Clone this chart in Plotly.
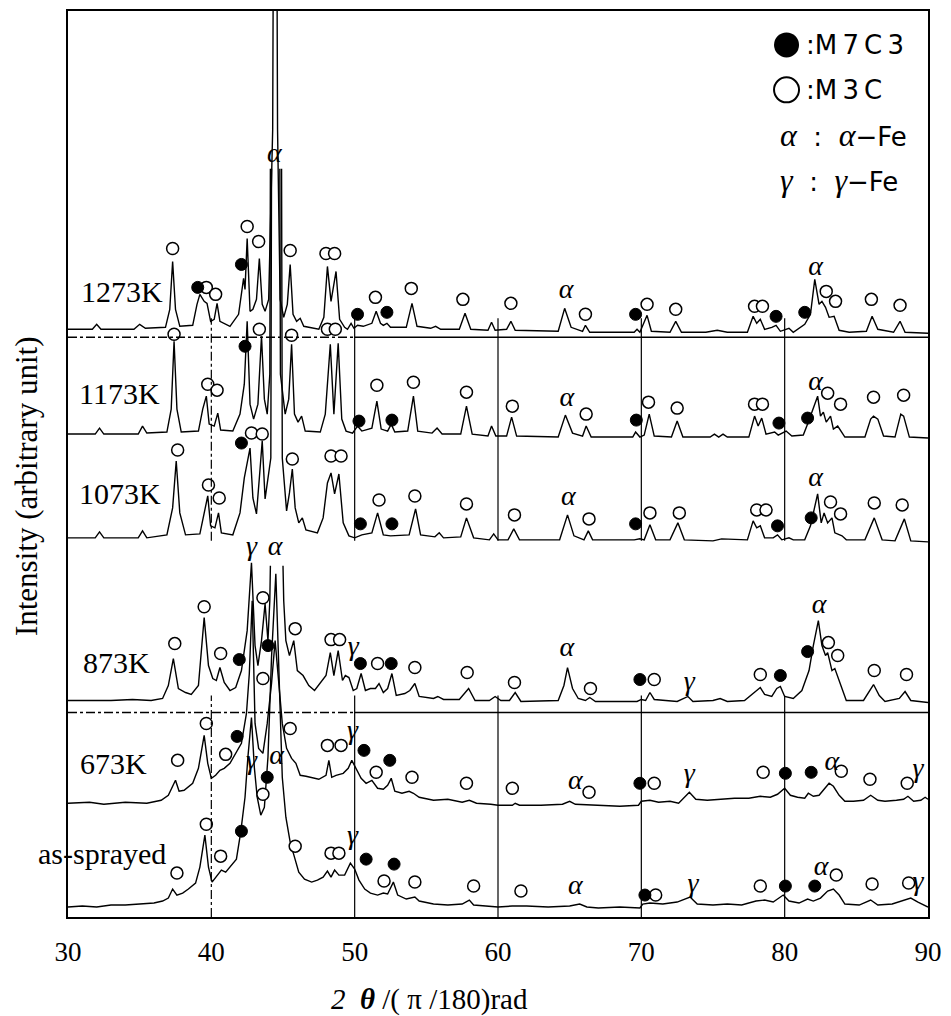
import plotly.graph_objects as go

# X-ray diffraction patterns of the sprayed coating after heat treatment.
# Each pattern: (2theta [deg], intensity above its own baseline [a.u.]).
# None marks an off-scale peak whose top is left open.

PATTERN_1273K = [
    (30.0, 0), (31.7, 0), (32.0, 5), (32.3, 0), (34.6, 0), (35.0, 5), (35.4, 1), (36.8, 2),
    (37.1, 20), (37.3, 68), (37.5, 20), (37.8, 3), (38.7, 4), (39.0, 25), (39.2, 35), (39.5, 28),
    (39.7, 26), (39.95, 8), (40.2, 10), (40.4, 26), (40.6, 8), (41.3, 3), (41.9, 15), (42.15, 45),
    (42.25, 51), (42.35, 40), (42.5, 91), (42.7, 18), (42.9, 20), (43.15, 30), (43.35, 71),
    (43.55, 25), (43.75, 18), (44.0, 30), (44.28, 200), (44.45, 900), (44.62, 200), (44.8, 30),
    (45.05, 12), (45.3, 25), (45.5, 65), (45.7, 15), (45.95, 8), (46.2, 11), (46.45, 3),
    (47.5, 0), (47.85, 12), (48.1, 63), (48.35, 28), (48.7, 58), (48.95, 10), (49.3, 2),
    (49.5, 0), (49.75, 6), (49.95, 1), (50.2, 4), (50.6, 3), (51.2, 6), (51.5, 18), (51.8, 6),
    (52.0, 4), (52.25, 6), (52.5, 2), (53.6, 2), (54.0, 26), (54.35, 3), (55.3, 1), (55.65, 3),
    (56.0, 0), (57.3, 0), (57.7, 16), (58.1, 0), (59.3, -1), (59.55, 7), (59.8, -1), (60.6, 0),
    (60.9, 8), (61.2, -1), (64.2, -2), (64.65, 21), (65.1, 2), (65.9, -2), (66.1, 4), (66.4, -3),
    (69.5, -3), (69.7, 0), (69.9, -3), (70.4, 14), (70.7, -2), (72.0, -3), (72.4, 8), (72.8, -3),
    (74.5, -3), (75.3, -1), (76.0, -3), (77.4, -3), (77.8, 13), (78.05, 6), (78.3, 10),
    (78.6, 0), (79.1, 2), (79.4, 4), (79.7, -2), (80.3, 1), (80.6, -3), (81.4, 5), (81.8, 15),
    (82.1, 50), (82.4, 25), (82.6, 28), (82.85, 22), (83.1, 12), (83.45, 13), (83.8, -1),
    (84.5, -3), (85.7, -2), (86.1, 13), (86.5, 0), (87.6, -3), (88.05, 8), (88.4, -3), (90.0, -4),
]

PATTERN_1173K = [
    (30.0, 0), (31.9, 0), (32.2, 6), (32.5, 0), (34.9, 0), (35.2, 8), (35.5, 1), (36.9, 2),
    (37.2, 25), (37.4, 93), (37.6, 25), (37.9, 2), (39.1, 3), (39.4, 25), (39.65, 38),
    (39.85, 10), (40.2, 8), (40.45, 21), (40.65, 4), (41.5, 3), (42.0, 20), (42.3, 50),
    (42.5, 113), (42.7, 30), (42.95, 15), (43.25, 30), (43.5, 98), (43.7, 35), (43.9, 20),
    (44.08, 60), (44.12, 266), (44.45, None), (44.78, 266), (44.82, 60), (45.15, 20),
    (45.4, 35), (45.6, 90), (45.8, 20), (46.05, 12), (46.3, 18), (46.55, 3), (47.6, 2),
    (47.95, 20), (48.3, 90), (48.55, 20), (48.85, 91), (49.1, 15), (49.4, 3), (49.85, 1),
    (50.2, 8), (50.5, 3), (51.2, 6), (51.55, 33), (51.85, 5), (52.3, 3), (52.55, 10), (52.8, 2),
    (53.7, 3), (54.1, 38), (54.4, 3), (55.4, 1), (55.75, 6), (56.1, 0), (57.4, 0), (57.8, 28),
    (58.2, 0), (59.3, -2), (59.55, 8), (59.85, -2), (60.6, -2), (60.95, 17), (61.3, -2),
    (64.2, -3), (64.7, 19), (65.2, 1), (65.9, -2), (66.15, 8), (66.5, -3), (69.4, -3),
    (69.6, 2), (69.9, -3), (70.2, -1), (70.55, 20), (70.9, -2), (72.1, -3), (72.5, 13),
    (72.9, -3), (74.8, -3), (75.1, 0), (75.4, -3), (75.7, 0), (76.0, -3), (77.5, -3),
    (77.9, 18), (78.15, 8), (78.4, 16), (78.7, 0), (79.3, 2), (79.55, -1), (80.1, 3),
    (80.5, -2), (81.3, -1), (81.6, 10), (82.0, 25), (82.3, 38), (82.5, 18), (82.7, 22),
    (82.9, 12), (83.2, 18), (83.4, 5), (83.7, 8), (84.2, -3), (85.6, -3), (86.0, 15),
    (86.2, 18), (86.5, 15), (86.9, -2), (87.7, -3), (88.1, 20), (88.3, 18), (88.7, -3),
    (90.0, -4),
]

PATTERN_1073K = [
    (30.0, 0), (31.9, 0), (32.2, 6), (32.5, 0), (34.9, 0), (35.2, 7), (35.5, 0), (36.9, 3),
    (37.3, 30), (37.55, 77), (37.8, 25), (38.2, 3), (39.2, 4), (39.5, 25), (39.75, 42),
    (39.95, 12), (40.25, 10), (40.5, 25), (40.7, 5), (41.5, 3), (42.0, 25), (42.3, 60),
    (42.5, 75), (42.7, 90), (42.9, 40), (43.15, 24), (43.35, 60), (43.55, 97), (43.75, 39),
    (44.15, 80), (44.2, 370), (44.55, None), (44.9, 370), (44.95, 80), (45.25, 27), (45.45, 45),
    (45.65, 69), (45.85, 30), (46.1, 15), (46.35, 20), (46.6, 8), (47.4, 5), (47.8, 20),
    (48.1, 55), (48.35, 65), (48.6, 44), (48.9, 64), (49.2, 15), (49.6, 2), (50.0, 0),
    (50.5, 3), (51.2, 5), (51.6, 25), (52.0, 3), (52.5, 2), (53.8, 3), (54.25, 29), (54.6, 3),
    (55.6, 1), (55.9, 5), (56.2, 0), (57.4, 1), (57.8, 20), (58.3, 0), (59.4, -2), (59.7, 4),
    (60.0, -2), (60.7, -2), (61.1, 9), (61.5, -2), (64.3, -2), (64.85, 23), (65.3, 2),
    (66.0, -2), (66.3, 7), (66.6, -2), (69.5, -2), (69.9, -1), (70.2, -2), (70.6, 13),
    (71.0, -2), (72.0, -2), (72.55, 15), (73.0, -2), (75.0, -3), (75.6, -1), (77.4, -2),
    (77.8, 17), (78.05, 10), (78.3, 12), (78.6, 0), (79.2, 0), (79.5, 3), (79.8, -2),
    (80.3, 0), (80.6, -2), (81.4, -2), (81.8, 12), (82.3, 44), (82.55, 15), (82.75, 25),
    (83.0, 15), (83.3, 20), (83.5, 5), (84.0, 2), (84.3, -2), (85.6, -2), (86.25, 20),
    (86.8, -2), (87.7, -3), (88.35, 19), (88.8, -3), (90.0, -4),
]

PATTERN_873K = [
    (30.0, 0), (33.0, 0), (34.5, 1), (35.8, 0), (36.6, 2), (37.0, 15), (37.35, 42), (37.7, 12),
    (38.2, 8), (38.6, 6), (39.1, 15), (39.5, 83), (39.8, 35), (40.1, 22), (40.35, 20),
    (40.6, 33), (40.9, 18), (41.3, 10), (41.7, 13), (42.1, 30), (42.5, 70), (42.8, 138),
    (43.05, 55), (43.25, 35), (43.5, 60), (43.75, 97), (43.95, 60), (44.08, 100), (44.12, 135),
    (44.55, None), (45.0, 135), (45.05, 100), (45.2, 60), (45.45, 45), (45.75, 60), (46.0, 30),
    (46.4, 25), (46.8, 15), (47.2, 10), (47.6, 18), (48.0, 25), (48.3, 48), (48.55, 25),
    (48.85, 50), (49.15, 20), (49.35, 25), (49.6, 23), (49.9, 10), (50.15, 12), (50.45, 27),
    (50.75, 10), (51.1, 12), (51.45, 12), (51.7, 17), (52.0, 8), (52.3, 12), (52.6, 27),
    (52.9, 5), (53.5, 7), (53.85, 10), (54.2, 17), (54.5, 4), (55.5, 2), (55.8, 4), (56.2, 1),
    (57.3, 1), (57.95, 12), (58.4, 0), (59.4, 0), (59.8, 4), (60.2, 0), (60.8, 0), (61.2, 8),
    (61.6, -1), (64.2, 0), (64.6, 15), (64.85, 33), (65.2, 12), (65.6, 2), (66.1, 0),
    (66.4, 3), (66.8, -1), (69.7, -1), (70.0, 1), (70.3, 0), (70.6, 8), (70.9, 1), (72.5, -1),
    (73.25, 4), (73.6, -1), (75.0, 0), (75.5, 2), (76.0, -1), (77.2, 0), (77.7, 6), (78.1, 10),
    (78.3, 13), (78.6, 6), (79.1, 4), (79.45, 12), (79.7, 14), (80.0, 4), (80.6, 2), (81.2, 10),
    (81.7, 30), (82.0, 55), (82.35, 80), (82.6, 55), (82.85, 45), (83.0, 48), (83.3, 30),
    (83.5, 32), (83.9, 15), (84.3, 0), (85.5, 0), (85.9, 10), (86.2, 16), (86.6, 5), (87.0, -1),
    (88.0, 2), (88.4, 9), (88.8, 0), (90.0, -2),
]

PATTERN_673K = [
    (30.0, 0), (31.5, 1), (32.5, -1), (34.0, 1), (35.5, 0), (36.5, 3), (37.0, 8), (37.25, 15),
    (37.5, 23), (37.75, 12), (38.1, 13), (38.7, 20), (39.1, 35), (39.5, 68), (39.75, 40),
    (40.0, 25), (40.3, 28), (40.6, 33), (40.9, 35), (41.3, 40), (41.7, 50), (42.1, 60),
    (42.45, 90), (42.65, 130), (42.85, 203), (43.05, 80), (43.3, 55), (43.6, 50), (43.9, 80),
    (44.2, 120), (44.45, 163), (44.7, 120), (44.95, 80), (45.25, 55), (45.6, 45), (45.9, 40),
    (46.2, 28), (46.6, 27), (47.0, 26), (47.5, 24), (48.0, 28), (48.2, 43), (48.4, 26),
    (48.7, 28), (49.2, 30), (49.55, 35), (49.8, 43), (50.1, 35), (50.45, 25), (50.8, 20),
    (51.2, 23), (51.6, 15), (52.0, 14), (52.3, 18), (52.55, 25), (52.8, 12), (53.3, 10),
    (53.8, 12), (54.1, 10), (54.5, 6), (55.5, 3), (56.5, 4), (57.5, 1), (58.0, 3), (58.5, 0),
    (59.5, -1), (60.0, -2), (61.0, -2), (61.2, 0), (61.5, -2), (63.0, -2), (64.5, -1),
    (65.0, 2), (65.4, -1), (67.0, -2), (68.5, -3), (69.8, -2), (70.0, 2), (70.6, 3), (71.2, 1),
    (72.0, 2), (72.6, 0), (73.35, 11), (73.8, 4), (74.6, 3), (75.5, 4), (76.5, 5), (77.5, 5),
    (78.3, 7), (79.0, 6), (79.5, 9), (80.0, 15), (80.4, 8), (80.9, 6), (81.4, 5), (81.65, 10),
    (82.0, 7), (82.4, 8), (82.8, 15), (83.1, 20), (83.4, 17), (83.8, 8), (84.2, 2), (84.8, 2),
    (85.5, 3), (86.0, 8), (86.5, 3), (87.0, 2), (87.8, 3), (88.3, 4), (88.6, 7), (89.0, 2),
    (89.5, 3), (89.8, 6), (90.0, 4),
]

PATTERN_AS_SPRAYED = [
    (30.0, 0), (31.0, 1), (32.0, 0), (33.0, 2), (34.0, 2), (35.0, 3), (36.0, 4), (36.6, 6),
    (37.0, 9), (37.3, 18), (37.6, 12), (38.0, 14), (38.4, 18), (38.9, 24), (39.2, 40),
    (39.55, 72), (39.8, 40), (40.05, 25), (40.4, 32), (40.7, 37), (41.0, 35), (41.4, 42),
    (41.75, 48), (42.05, 75), (42.35, 110), (42.55, 150), (42.8, 190), (43.0, 140),
    (43.2, 110), (43.45, 92), (43.7, 100), (43.95, 150), (44.2, 250), (44.5, 334),
    (44.75, 220), (44.95, 130), (45.2, 90), (45.5, 65), (45.8, 50), (46.1, 35), (46.5, 28),
    (47.0, 25), (47.4, 27), (47.8, 30), (48.1, 36), (48.35, 30), (48.6, 37), (48.9, 32),
    (49.3, 32), (49.7, 44), (50.0, 38), (50.3, 27), (50.7, 18), (51.1, 14), (51.6, 12),
    (52.0, 14), (52.3, 13), (52.7, 25), (53.0, 12), (53.6, 8), (54.2, 10), (54.5, 6),
    (55.5, 3), (56.5, 2), (57.5, 3), (58.0, 7), (58.3, 2), (59.5, 1), (60.0, 0), (61.0, 1),
    (62.0, 1), (63.5, 0), (65.0, 1), (65.7, 3), (66.2, 0), (67.0, -1), (68.5, 0), (69.9, -1),
    (70.1, 3), (70.6, 4), (71.5, 3), (72.5, 5), (73.4, 10), (73.9, 3), (75.0, 2), (76.0, 3),
    (77.0, 2), (78.0, 6), (78.6, 7), (79.2, 5), (79.9, 12), (80.3, 6), (81.0, 4), (81.6, 8),
    (82.0, 6), (82.5, 9), (83.0, 16), (83.4, 18), (83.8, 12), (84.2, 3), (85.2, 2), (86.0, 7),
    (86.5, 2), (87.5, 3), (88.4, 7), (88.8, 9), (89.3, 5), (90.0, 0),
]

# Phase identification marks: (2theta, height above the pattern baseline)
M7C3_1273K = [(39.05, 42), (42.1, 65), (50.2, 15), (52.25, 17), (69.6, 15), (79.4, 13), (81.4, 17)]
M3C_1273K = [(37.3, 81), (39.65, 42), (40.3, 35), (42.5, 103), (43.3, 88), (45.5, 79), (48.0, 76),
             (48.6, 76), (51.45, 32), (53.95, 41), (57.55, 30), (60.9, 26), (66.1, 15), (70.4, 25),
             (72.4, 20), (77.9, 23), (78.45, 23), (82.9, 38), (83.55, 28), (86.05, 30), (88.05, 24)]
ALPHA_1273K = [(44.4, 175), (64.75, 38), (82.15, 61)]
GAMMA_1273K = []

M7C3_1173K = [(42.35, 88), (50.3, 13), (52.6, 14), (69.65, 14), (79.6, 11), (81.6, 16)]
M3C_1173K = [(37.4, 100), (39.75, 50), (40.4, 44), (43.35, 105), (45.6, 99), (48.1, 105),
             (48.65, 105), (51.55, 49), (54.1, 52), (57.8, 42), (61.0, 28), (66.15, 20), (70.5, 32),
             (72.5, 26), (77.9, 30), (78.45, 30), (83.0, 41), (83.9, 30), (86.2, 37), (88.3, 39)]
ALPHA_1173K = [(64.8, 35), (82.15, 51)]
GAMMA_1173K = []

M7C3_1073K = [(42.1, 95), (50.4, 14), (52.6, 14), (69.6, 14), (79.5, 12), (81.85, 20)]
M3C_1073K = [(37.65, 88), (39.8, 53), (40.55, 40), (42.8, 105), (43.55, 104), (45.65, 79),
             (48.35, 82), (49.05, 82), (51.7, 38), (54.2, 42), (57.8, 34), (61.15, 23), (66.35, 19),
             (70.6, 25), (72.65, 25), (78.05, 28), (78.7, 28), (83.2, 36), (83.9, 24), (86.25, 35),
             (88.2, 33)]
ALPHA_1073K = [(64.9, 40), (82.15, 59)]
GAMMA_1073K = []

M7C3_873K = [(41.95, 41), (43.95, 55), (50.4, 37), (52.55, 37), (69.9, 21), (79.7, 25), (81.6, 49)]
M3C_873K = [(37.45, 57), (39.5, 94), (40.65, 47), (43.6, 103), (43.6, 22), (45.85, 72),
            (48.35, 61), (48.95, 61), (51.6, 37), (54.2, 33), (57.85, 28), (61.15, 18), (66.45, 12),
            (70.9, 21), (78.3, 26), (83.05, 58), (83.7, 45), (86.25, 30), (88.5, 26)]
ALPHA_873K = [(44.45, 153), (64.8, 52), (82.4, 95)]
GAMMA_873K = [(42.8, 153), (49.9, 53), (73.35, 18)]

M7C3_673K = [(41.8, 67), (50.65, 53), (52.45, 43), (69.9, 20), (80.05, 30), (81.85, 31)]
M3C_673K = [(37.65, 43), (39.65, 80), (41.0, 49), (45.5, 75), (48.1, 58), (49.05, 58), (51.5, 31),
            (54.0, 26), (57.8, 20), (61.0, 15), (66.35, 11), (70.9, 20), (78.5, 31), (83.95, 32),
            (85.95, 24), (88.55, 20)]
ALPHA_673K = [(65.4, 21), (83.3, 40)]
GAMMA_673K = [(49.85, 71), (73.35, 28), (89.3, 33)]

M7C3_AS_SPRAYED = [(42.1, 76), (43.9, 130), (50.8, 48), (52.75, 43), (70.25, 12), (80.05, 21), (82.1, 21)]
M3C_AS_SPRAYED = [(37.6, 34), (39.65, 83), (40.65, 51), (43.6, 113), (45.85, 61), (48.35, 54),
                  (48.9, 54), (52.05, 26), (54.2, 25), (58.3, 21), (61.6, 16), (71.0, 12), (78.3, 21),
                  (83.6, 32), (86.1, 23), (88.65, 24)]
ALPHA_AS_SPRAYED = [(44.55, 150), (65.4, 20), (82.55, 39)]
GAMMA_AS_SPRAYED = [(42.8, 145), (49.85, 70), (73.6, 22), (89.3, 24)]

SAMPLE_NAMES = ["1273K", "1173K", "1073K", "873K", "673K", "as-sprayed"]
BASELINE_OFFSETS = [589, 484, 380, 217, 114, 10]
PATTERNS = [PATTERN_1273K, PATTERN_1173K, PATTERN_1073K, PATTERN_873K, PATTERN_673K, PATTERN_AS_SPRAYED]
M7C3_MARKS = [M7C3_1273K, M7C3_1173K, M7C3_1073K, M7C3_873K, M7C3_673K, M7C3_AS_SPRAYED]
M3C_MARKS = [M3C_1273K, M3C_1173K, M3C_1073K, M3C_873K, M3C_673K, M3C_AS_SPRAYED]
ALPHA_MARKS = [ALPHA_1273K, ALPHA_1173K, ALPHA_1073K, ALPHA_873K, ALPHA_673K, ALPHA_AS_SPRAYED]
GAMMA_MARKS = [GAMMA_1273K, GAMMA_1173K, GAMMA_1073K, GAMMA_873K, GAMMA_673K, GAMMA_AS_SPRAYED]

X_TICKS = [30, 40, 50, 60, 70, 80, 90]
REFERENCE_2THETA = [40, 50, 60, 70, 80]

SERIF = "Liberation Serif, Times New Roman, serif"
KEY_FONT = "DejaVu Sans, sans-serif"

fig = go.Figure()

# diffraction patterns
for name, off, pat in zip(SAMPLE_NAMES, BASELINE_OFFSETS, PATTERNS):
    xs = [p[0] for p in pat]
    ys = [None if p[1] is None else p[1] + off for p in pat]
    fig.add_trace(go.Scatter(x=xs, y=ys, mode="lines", name=name, connectgaps=False,
                             line=dict(color="black", width=1.4), showlegend=False,
                             hoverinfo="skip"))


def gather(groups):
    xs, ys = [], []
    for off, marks in zip(BASELINE_OFFSETS, groups):
        for tt, h in marks:
            xs.append(tt)
            ys.append(h + off)
    return xs, ys


mx, my = gather(M3C_MARKS)
fig.add_trace(go.Scatter(x=mx, y=my, mode="markers", showlegend=False, hoverinfo="skip",
                         marker=dict(symbol="circle", size=12, color="white",
                                     line=dict(color="black", width=1.5))))
mx, my = gather(M7C3_MARKS)
fig.add_trace(go.Scatter(x=mx, y=my, mode="markers", showlegend=False, hoverinfo="skip",
                         marker=dict(symbol="circle", size=12, color="black",
                                     line=dict(color="black", width=1))))
for groups, sym in ((ALPHA_MARKS, "α"), (GAMMA_MARKS, "γ")):
    tx, ty = gather(groups)
    fig.add_trace(go.Scatter(x=tx, y=ty, mode="text", text=[f"<i>{sym}</i>"] * len(tx),
                             textfont=dict(family=SERIF, size=28, color="black"),
                             showlegend=False, hoverinfo="skip"))

# reference lines at round 2theta values and the separators between groups of patterns
shapes = []
for tt in REFERENCE_2THETA:
    dash = "dashdot" if tt == 40 else "solid"
    for y0, y1 in ((377, 600), (0, 222)):
        shapes.append(dict(type="line", xref="x", yref="y", x0=tt, x1=tt, y0=y0, y1=y1,
                           line=dict(color="black", width=1.2, dash=dash)))
for ysep in (581, 205):
    shapes.append(dict(type="line", xref="x", yref="y", x0=30, x1=50, y0=ysep, y1=ysep,
                       line=dict(color="black", width=1.4, dash="dashdot")))
    shapes.append(dict(type="line", xref="x", yref="y", x0=50, x1=90, y0=ysep, y1=ysep,
                       line=dict(color="black", width=1.4)))

annotations = []
# sample labels
for name, x, y in (("1273K", 33.75, 627), ("1173K", 33.6, 525), ("1073K", 33.6, 424),
                   ("873K", 33.4, 255), ("673K", 33.2, 154), ("as-sprayed", 32.35, 64)):
    annotations.append(dict(x=x, y=y, xref="x", yref="y", text=name, showarrow=False,
                            font=dict(family=SERIF, size=30, color="black"),
                            xanchor="center", yanchor="middle"))

# phase key
fig.add_trace(go.Scatter(x=[80.13], y=[874], mode="markers", showlegend=False,
                         hoverinfo="skip", marker=dict(symbol="circle", size=25, color="black")))
fig.add_trace(go.Scatter(x=[80.13], y=[829], mode="markers", showlegend=False,
                         hoverinfo="skip", marker=dict(symbol="circle", size=25, color="white",
                                                       line=dict(color="black", width=2))))
for text, y in ((":M\u20097\u2009C\u20093", 874), (":M\u20093\u2009C", 829)):
    annotations.append(dict(x=81.35, y=y, xref="x", yref="y", text=text, showarrow=False,
                            font=dict(family=KEY_FONT, size=26, color="black"),
                            xanchor="left", yanchor="middle"))
greek_span = "<span style='font-family:Liberation Serif;font-style:italic;font-size:32px'>{}</span>"
for sym, y in (("α", 784), ("γ", 739)):
    txt = greek_span.format(sym) + "  :  " + greek_span.format(sym) + "\u2212Fe"
    annotations.append(dict(x=79.5, y=y, xref="x", yref="y", text=txt, showarrow=False,
                            font=dict(family=KEY_FONT, size=26, color="black"),
                            xanchor="left", yanchor="middle"))

# axis titles
annotations.append(dict(x=0.4206, y=-0.0914, xref="paper", yref="paper",
                        text="<i>2</i>  <b><i>θ</i></b> /( π /180)rad", showarrow=False,
                        font=dict(family=SERIF, size=29, color="black"),
                        xanchor="center", yanchor="middle"))
annotations.append(dict(x=-0.0475, y=0.4758, xref="paper", yref="paper",
                        text="Intensity (arbitrary unit)", showarrow=False, textangle=-90,
                        font=dict(family=SERIF, size=31, color="black"),
                        xanchor="center", yanchor="middle"))

fig.update_layout(
    width=951, height=1016,
    margin=dict(l=68, r=20, t=9, b=99),
    paper_bgcolor="white", plot_bgcolor="white",
    shapes=shapes, annotations=annotations,
    xaxis=dict(range=[30, 90], tickvals=X_TICKS, ticktext=[str(v) for v in X_TICKS],
               ticks="", showgrid=False, zeroline=False, showline=True, mirror=True,
               linecolor="black", linewidth=2, ticklabelstandoff=10,
               tickfont=dict(family=SERIF, size=27, color="black")),
    yaxis=dict(range=[0, 908], showticklabels=False, ticks="", showgrid=False, zeroline=False,
               showline=True, mirror=True, linecolor="black", linewidth=2),
)

fig.write_html("out.html")
